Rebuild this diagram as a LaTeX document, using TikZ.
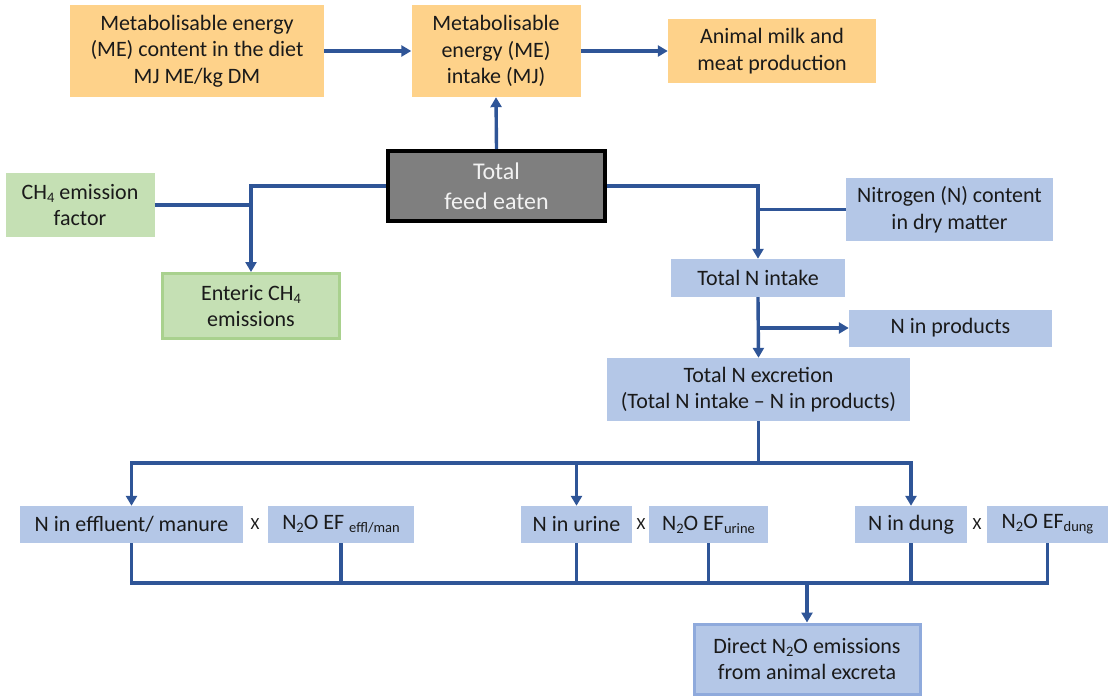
\documentclass[tikz,border=0pt]{standalone}
\usepackage{fontspec}
\setmainfont{Carlito}
\usetikzlibrary{arrows.meta}
\definecolor{orng}{HTML}{FED28A}
\definecolor{grn}{HTML}{C5E0B4}
\definecolor{grnb}{HTML}{A9D18E}
\definecolor{blu}{HTML}{B4C7E7}
\definecolor{blub}{HTML}{8FAADC}
\definecolor{lnc}{HTML}{2F5597}
\definecolor{txt}{HTML}{1A1A1A}
\definecolor{feedfill}{HTML}{7F7F7F}
\newcommand\mysub[1]{\raisebox{-0.3ex}{\fontsize{14.5}{14.5}\selectfont #1}}
\begin{document}
\begin{tikzpicture}[x=1pt,y=-1pt,
  font=\fontsize{22}{26.7}\selectfont,
  bx/.style={inner sep=0pt, align=center, text=txt},
  obox/.style={bx, fill=orng},
  gbox/.style={bx, fill=grn},
  bbox/.style={bx, fill=blu},
  conn/.style={draw=lnc, line width=3.4pt},
  arr/.style={conn, -{Triangle[length=10pt,width=11pt]}},
  times/.style={inner sep=0pt, text=txt, font=\fontsize{17}{17}\selectfont}]
\useasboundingbox (0,0) rectangle (1108,697);
% top row
\node[obox, minimum width=254pt, minimum height=92pt] (mec) at (197,51) {Metabolisable energy\\(ME) content in the diet\\MJ ME/kg DM};
\node[obox, minimum width=169pt, minimum height=92pt] (mei) at (496,51) {Metabolisable\\energy (ME)\\intake (MJ)};
\node[obox, minimum width=208pt, minimum height=64pt] (milk) at (772,51) {Animal milk and\\meat production};
% feed
\node[bx, fill=feedfill, draw=black, line width=4pt, text=white!95!black, minimum width=217pt, minimum height=70pt, font=\fontsize{24}{30}\selectfont] (feed) at (496.5,186) {Total\\feed eaten};
% methane
\node[gbox, minimum width=149pt, minimum height=64pt] (ch4f) at (80,205) {CH\mysub{4} emission\\factor};
\node[gbox, draw=grnb, line width=3pt, minimum width=177pt, minimum height=65pt] (ent) at (251,306) {Enteric CH\mysub{4}\\emissions};
% nitrogen
\node[bbox, minimum width=207pt, minimum height=63pt] (nc) at (949.5,209.5) {Nitrogen (N) content\\in dry matter};
\node[bbox, minimum width=174pt, minimum height=38pt] (tni) at (758,278) {Total N intake};
\node[bbox, minimum width=203pt, minimum height=37pt] (nprod) at (950.5,328) {N in products};
\node[bbox, minimum width=303pt, minimum height=63pt] (excr) at (758.5,389.5) {Total N excretion\\(Total N intake – N in products)};
% lower row
\node[bbox, minimum width=223pt, minimum height=37pt] (eff) at (131.5,524.5) {N in effluent/ manure};
\node[times] (x1) at (255,524.5) {X};
\node[bbox, minimum width=146pt, minimum height=37pt] (efe) at (341,524.5) {N\mysub{2}O EF \mysub{effl/man}};
\node[bbox, minimum width=111pt, minimum height=37pt] (uri) at (576.5,524.5) {N in urine};
\node[times] (x2) at (641,524.5) {X};
\node[bbox, minimum width=119pt, minimum height=37pt] (efu) at (708.5,524.5) {N\mysub{2}O EF\mysub{urine}};
\node[bbox, minimum width=112pt, minimum height=37pt] (dun) at (911,524.5) {N in dung};
\node[times] (x3) at (977,524.5) {X};
\node[bbox, minimum width=121pt, minimum height=37pt] (efd) at (1047.5,524.5) {N\mysub{2}O EF\mysub{dung}};
\node[bbox, draw=blub, line width=3pt, minimum width=226pt, minimum height=70pt] (direct) at (807,659) {Direct N\mysub{2}O emissions\\from animal excreta};
% coordinates
\coordinate (split) at (758.5,463);
\coordinate (join) at (807,583);
% connectors top
\draw[arr] (mec) -- (mei);
\draw[arr] (mei) -- (milk);
\draw[arr] (feed.north) -- (mei.south);
\draw[arr] (feed.west) -| (ent.north);
\draw[conn] (ch4f.east) -- (ent.north |- ch4f.east);
\draw[arr] (feed.east) -| (tni.north);
\draw[conn] (nc.west) -- (tni.north |- nc.west);
\draw[arr] (tni.south) -- (excr.north);
\draw[arr] (tni.south |- nprod.west) -- (nprod.west);
% split
\draw[conn] (excr.south) -- (split);
\draw[arr] (split) -| (eff.north);
\draw[arr] (split) -| (dun.north);
\draw[arr] (uri.north |- split) -- (uri.north);
% join
\draw[conn] (eff.south) |- (join);
\draw[conn] (efd.south) |- (join);
\draw[conn] (efe.south) -- (efe.south |- join);
\draw[conn] (uri.south) -- (uri.south |- join);
\draw[conn] (efu.south) -- (efu.south |- join);
\draw[conn] (dun.south) -- (dun.south |- join);
\draw[arr] (join) -- (direct.north);
\end{tikzpicture}
\end{document}
